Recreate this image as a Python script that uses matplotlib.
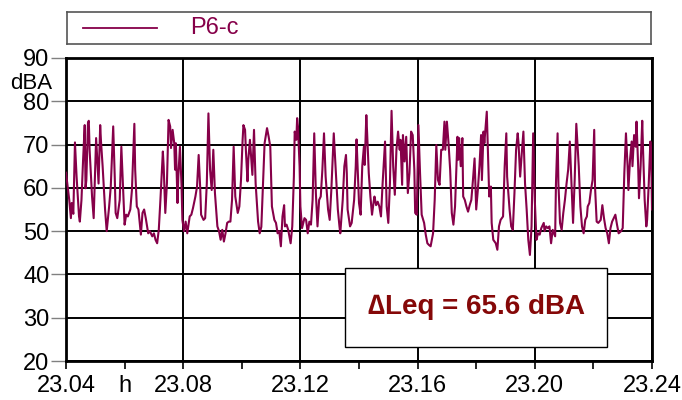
import numpy as np
import matplotlib
matplotlib.use('Agg')
import matplotlib.pyplot as plt
from matplotlib.patches import Rectangle
from matplotlib.ticker import FixedLocator, FixedFormatter
import matplotlib.transforms as mtransforms

plt.rcParams['font.family'] = ['Liberation Sans', 'DejaVu Sans']

# seconds after 23.04 h
sec = [0, 4, 6, 7, 9, 11, 13, 16, 17, 19, 21, 23, 24, 25, 27, 28, 29, 32, 34, 37, 40, 42, 43, 45, 48, 50, 53, 55, 58, 60,
       61, 63, 66, 68, 70, 72, 74, 76, 79, 81, 84, 85, 87, 89, 92, 94, 96, 98, 101, 103, 106, 108, 110, 112, 114, 116, 119,
       120, 122, 124, 126, 128, 129, 131, 133, 134, 135, 137, 138, 140, 142, 143, 145, 147, 149, 152, 154, 156, 159, 161,
       163, 165, 166, 169, 171, 173, 175, 177, 179, 181, 183, 186, 188, 190, 192, 194, 196, 198, 200, 202, 204, 206, 208,
       211, 213, 215, 217, 218, 220, 221, 223, 224, 226, 229, 231, 233, 236, 238, 240,
       242, 244, 246, 247, 249, 251, 253, 256, 258, 260, 262, 264, 266, 268, 269, 271, 273, 276, 278, 280, 281, 283, 284,
       285, 287, 288, 290, 293, 295, 297, 299, 301, 303, 305, 307, 309, 311, 313, 315, 317, 319, 322, 324, 326, 329, 332,
       334, 336, 337, 340, 342, 344, 345, 346, 349, 351, 354, 356, 357, 359, 360,
       362, 364, 366, 367, 369, 370, 372, 374, 376, 378, 379, 381, 383, 385, 387, 389, 392, 394, 396, 398, 400, 402, 404,
       406, 408, 410, 411, 413, 414, 416, 418, 420, 422, 424, 426, 428, 429, 431, 433, 435, 437, 440, 442, 444, 446, 448,
       451, 453, 455, 457, 459, 461, 463, 465, 466, 468, 470, 472, 474, 476, 478, 480,
       481, 482, 483, 485, 487, 488, 490, 492, 494, 496, 498, 500, 502, 504, 506, 508, 510, 511, 513, 514, 517, 519, 520,
       522, 523, 525, 528, 530, 532, 534, 537, 539, 541, 542, 545, 547, 549, 551, 553, 555, 556, 558, 560, 562, 564, 566,
       568, 570, 572, 574, 576, 578, 580, 582, 584, 587, 588, 590, 592, 594, 596, 598,
       601, 602, 604, 605, 607, 609, 611, 613, 615, 617, 619, 621, 623, 625, 627, 630, 632, 634, 636, 638, 640, 641, 643,
       645, 647, 649, 650, 652, 654, 657, 659, 661, 663, 665, 667, 669, 671, 673, 675, 677, 679, 682, 684, 686, 688, 690,
       691, 693, 695, 696, 698, 700, 701, 703, 704, 706, 708, 709, 711, 713, 714, 716, 718, 719, 720]

# dBA
level = [63.5, 57.2, 53, 56.5, 54, 70.5, 62.6, 53.4, 52.2, 57.2, 66.5, 74.5, 59.9, 61.8, 75, 75.5, 68.8, 58, 53, 71.5,
         61, 74.5, 70.7, 65, 55, 50, 55.7, 60.3, 74.2, 61.8, 54.2, 53, 57.2, 69.5, 60.3, 51.5, 53.8, 53.4, 55, 59.5, 74.8,
         64.2, 55.7, 55, 49.2, 54.2, 55, 53, 49.5, 50, 48.8, 49.5, 48, 47.2, 50.3, 57.2, 68.4,
         65, 54.2, 61, 75.7, 74.2, 69.2, 73.4, 70.3, 64.2, 70.3, 56.5, 62.6, 69.5, 60.3, 52.6, 50, 52.2, 49.5, 53.4, 53.8,
         55.3, 58, 60.3, 67.6, 59.5, 53.8, 52.6, 53, 61, 77.2, 64.2, 59.5, 68.8, 58.8, 51.1, 50, 48, 50.3, 47.6, 49.5,
         51.9, 52.2, 52.2, 57.2, 69.5, 58, 54.2, 55.7, 61.8, 71.1, 74.5, 73.4, 68.8, 61.5, 66.5, 71.1, 63, 73.4, 61, 52.2,
         49.5, 51,
         60.7, 70.3, 72.6, 73.8, 71.8, 69.5, 55.7, 52.6, 51.9, 49.5, 50, 46.5, 53.4, 56, 51.1, 51.5, 50.3, 47.2, 51.1,
         62.6, 73, 71.1, 76.1, 74.2, 65, 55.7, 50.7, 53, 52.6, 49.5, 52.2, 51.5, 57.2, 72.6, 58.8, 51.1, 57.2, 58, 64.2,
         72.6, 62.6, 55, 52.6, 59.5, 72.6, 61.8, 55, 51.1, 49.5, 57.2, 65, 67.6, 63.4, 55, 51.1, 51.9, 57.2, 65, 71.2, 61,
         56.5,
         53.8, 65, 69.5, 65.3, 76.8, 72.6, 63.4, 58, 53.8, 56.8, 58, 56, 56.8, 55.7, 53.4, 61, 70.7, 55.7, 51.9, 61, 77.8,
         65, 58.4, 68.8, 73, 68.8, 71.1, 60.7, 72.2, 66.1, 71.8, 58.8, 63.4, 73, 72.2, 64.2, 54.2, 53.8, 74.5, 63.4, 53.8,
         51.9, 49.2, 47.2, 46.8, 46.5, 49.5, 57.2, 69.9, 61.8, 60.7, 68.8, 68.8, 75.3, 68.8, 75.3, 70.3, 64.2, 54.2, 51.5,
         55.7, 66,
         71.8, 66.5, 71.5, 65, 71.5, 58, 57.2, 55.7, 54.5, 56, 57.2, 61.8, 66.8, 55, 59.5, 65, 72.2, 61.8, 73, 70.3, 77.6,
         65, 58, 60.3, 51.9, 48, 47.2, 45.7, 51.1, 52.6, 53.4, 65, 72.6, 62.6, 55, 51.1, 50.3, 58.8, 68.8, 72.6, 70.3,
         62.6, 68, 73, 61, 55, 48, 44.5, 51.1, 72.6, 57.2, 48, 49.5, 49.2, 50.7, 51.9, 50, 51.1, 50.7, 51.1, 47.2, 50.3,
         48.8, 61, 72.6, 61, 51.9, 50.3, 54.2, 57.2, 61, 64.2, 70.7, 61, 51.9, 61.8, 74.8, 65, 55.7, 51.1, 49.5, 52.6,
         53.4, 55.7, 56.5, 59.5, 61.8, 73.4, 60.3, 52.2, 51.9, 52.6, 56, 53, 50.7, 49.5, 47.2, 50.7, 52.2, 53, 53.8, 51.5,
         49.5, 50, 50.7, 63.4, 72.6, 65, 59.5, 66.5, 70.7, 65, 72.2, 69.5, 75.3, 65, 57.6, 65, 75.5, 68.8, 57.2, 51.1,
         52.6, 61, 70.7, 68, 55]

series_name = 'P6-c'
leq_text = '\u2206Leq = 65.6 dBA'
x_major = [23.04, 23.08, 23.12, 23.16, 23.20, 23.24]
x_minor = [23.06, 23.10, 23.14, 23.18, 23.22]
y_ticks = [20, 30, 40, 50, 60, 70, 80, 90]

line_col = '#860049'
text_col = '#850808'

t = 23.04 + np.array(sec) / 3600.0

fig = plt.figure(figsize=(6.82, 4.0), dpi=100)
ax = fig.add_axes([66 / 682, 39 / 400, 586 / 682, 303 / 400])

ax.plot(t, level, color=line_col, lw=1.5, zorder=3)

ax.set_xlim(23.04, 23.24)
ax.set_ylim(20, 90)
ax.xaxis.set_major_locator(FixedLocator(x_major))
ax.set_xticklabels(['%.2f' % v for v in x_major])
ax.xaxis.set_minor_locator(FixedLocator(x_minor))
ax.xaxis.set_minor_formatter(FixedFormatter(['h', '', '', '', '']))
ax.set_yticks(y_ticks)
ax.set_yticklabels([str(v) for v in y_ticks])

ax.tick_params(axis='y', direction='out', length=11, width=1, color='#808080',
               labelsize=17, pad=1)
ax.tick_params(axis='x', which='both', direction='out', length=6, width=1.2,
               color='black', labelsize=17, pad=4)

ax.grid(True, which='major', color='black', lw=1.4)
ax.set_axisbelow(True)
for s in ax.spines.values():
    s.set_linewidth(2)
    s.set_color('black')

# dBA unit label under 90
ax.text(-0.024, 84.1, 'dBA', transform=mtransforms.blended_transform_factory(ax.transAxes, ax.transData),
        ha='right', va='center', fontsize=16)

# text box
ax.add_patch(Rectangle((0.476, 0.046), 0.447, 0.261, transform=ax.transAxes,
                       facecolor='white', edgecolor='black', lw=1, zorder=5))
ax.text(0.700, 0.178, leq_text, transform=ax.transAxes, ha='center', va='center',
        fontsize=20, fontweight='bold', color=text_col, zorder=6)

# legend box on top
lax = fig.add_axes([67 / 682, 1 - 44 / 400, 584 / 682, 32 / 400])
lax.set_xlim(0, 1)
lax.set_ylim(0, 1)
lax.set_xticks([])
lax.set_yticks([])
for s in lax.spines.values():
    s.set_color('#555555')
    s.set_linewidth(1.2)
lax.plot([0.027, 0.154], [0.5, 0.5], color=line_col, lw=1.3)
lax.text(0.211, 0.5, series_name, ha='left', va='center', fontsize=17, color=line_col)

fig.savefig('out.png', dpi=100)
